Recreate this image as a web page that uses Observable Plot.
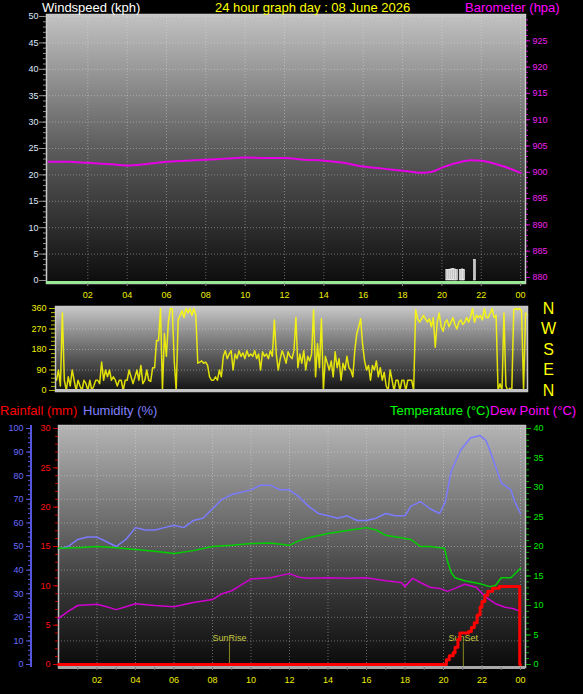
<!DOCTYPE html>
<html><head><meta charset="utf-8">
<script src="https://cdn.jsdelivr.net/npm/d3@7"></script>
<script src="https://cdn.jsdelivr.net/npm/@observablehq/plot@0.6"></script>
<style>
html,body{margin:0;padding:0;background:#000;color:#fff;}
#root{position:relative;width:583px;height:694px;background:#000;overflow:hidden;font-family:"Liberation Sans",Arial,sans-serif;}
.t{position:absolute;font-size:13px;line-height:13px;white-space:nowrap;}
</style></head><body><div id="root"></div>
<script>
// ---------- DATA ----------
const hourTicks = [2,4,6,8,10,12,14,16,18,20,22,24];
const hourLabels = ["02","04","06","08","10","12","14","16","18","20","22","00"];

// wind speed samples [hour, kph]
const windSpeed = [[20.27,2.0],[20.37,2.0],[20.47,2.1],[20.57,2.2],[20.67,2.1],[20.77,2.0],[20.95,2.0],[21.05,2.1],[21.13,2.0],[21.68,3.9]];

// barometer [hour, hPa]
const pressure = [[0,902.0],[1,902.0],[2,901.8],[3,901.6],[4,901.3],[5,901.6],[6,902.0],[7,902.2],[8,902.4],[9,902.6],[10,902.8],[11,902.7],[12,902.7],[13,902.4],[14,902.2],[15,901.8],[16,901.1],[17,900.7],[18,900.3],[19,899.9],[19.5,900.1],[20,900.9],[21,902.0],[21.5,902.3],[22,902.2],[23,901.3],[24,899.9]];

// wind direction, one value every 6 minutes from 00:00 to 24:00
const windDir = [
 45,90,20,340,45,0,60,20,90,45,
 0,45,20,0,45,30,0,45,0,20,
 45,45,30,125,45,90,60,90,45,60,
 45,20,45,45,0,45,45,90,60,30,
 60,90,45,110,30,45,90,45,40,100,
 100,220,220,360,0,250,150,300,360,360,
 130,0,310,330,350,320,360,340,360,330,
 360,330,120,125,130,120,125,110,60,45,
 45,60,45,90,60,150,175,140,160,175,
 90,160,140,175,150,165,140,175,150,160,
 150,175,140,160,90,170,150,160,140,175,
 150,310,160,90,140,175,150,120,170,150,
 140,175,320,100,160,120,175,90,150,130,
 160,355,60,205,100,315,0,150,120,90,
 130,60,170,100,140,45,120,90,150,100,
 90,60,175,250,280,315,200,130,90,110,
 45,110,90,130,60,100,45,80,20,0,
 90,45,0,45,45,0,45,45,0,45,
 45,45,0,355,315,300,315,330,315,300,
 315,280,320,190,300,340,280,260,300,310,
 280,300,320,290,270,300,310,290,300,320,
 300,325,360,300,330,320,330,310,360,320,
 320,340,360,320,330,0,30,0,340,20,
 0,10,0,355,360,355,360,350,0,340,
 330];
const compassDeg = [360,270,180,90,0];
const compassLabels = ["N","W","S","E","N"];

// humidity [hour, %]
const humidity = [[0,49],[0.5,50],[1,53],[1.5,54],[2,54],[2.5,52],[3,50],[3.5,53],[4,58],[4.5,57],[5,57],[5.5,58],[6,59],[6.5,58],[7,61],[7.5,62],[8,66],[8.5,70],[9,72],[9.5,73],[10,74],[10.5,76],[11,76],[11.5,74],[12,74],[12.5,71],[13,67],[13.5,64],[14,63],[14.5,62],[15,63],[15.5,61],[16,61],[16.5,62],[17,64],[17.5,63],[18,63],[18.3,67],[18.8,69],[19.3,66],[19.8,64],[20.1,69],[20.4,82],[20.9,91],[21.4,96],[21.9,97],[22.2,95],[22.4,91],[22.7,84],[23,77],[23.5,74],[23.7,69],[24,64]];
// temperature [hour, °C]
const temperature = [[0,19.7],[1,19.8],[2,20],[3,19.8],[4,19.5],[5,19.2],[6,18.8],[7,19.3],[8,20],[9,20.2],[10,20.5],[11,20.6],[12,20.2],[12.5,21],[13,21.5],[14,22.2],[15,22.7],[16,23.2],[16.5,22.8],[17,21.9],[17.8,21.5],[18.3,21.2],[18.8,20],[19.3,20],[19.8,19.8],[20.05,19.7],[20.2,17.6],[20.4,15.6],[20.6,14.7],[21.1,14.2],[21.9,13.7],[22.4,13.2],[22.7,13.4],[23,14.7],[23.5,14.7],[24,16.3]];
// dew point [hour, °C]
const dewPoint = [[0,7.8],[0.5,9],[1,10],[2,10.2],[2.5,9.8],[3,9.3],[3.5,9.8],[4,10.3],[5,10],[6,9.8],[7,10.5],[8,11],[8.5,12],[9,12.5],[9.5,13.5],[10,14.5],[11,14.7],[12,15.4],[12.5,14.8],[13,14.6],[14,14.7],[15,14.6],[16,14.7],[17,14.2],[17.8,13.9],[18,13.2],[18.4,14.6],[18.8,13.9],[19.3,13.1],[19.8,12.9],[20.2,12.4],[20.6,12.9],[21.1,13.6],[21.7,13.1],[22.2,11.4],[22.7,10.3],[23.2,9.7],[23.6,9.5],[24,9.0]];
// cumulative rainfall [hour, mm]
const rainfall = [[0,0],[20.1,0],[20.15,0.6],[20.3,1.1],[20.5,1.5],[20.6,2.2],[20.75,3.2],[20.85,4.0],[21.3,4.2],[21.45,4.7],[21.6,5.3],[21.75,6.3],[21.9,7.3],[22.0,8.0],[22.15,8.8],[22.3,9.3],[22.55,9.7],[22.9,9.9],[23.95,9.9],[23.96,0],[24,0]];
// sun events
const sunTimes = [8.88, 21.03];
const sunLabels = ["SunRise", "SunSet"];

// ---------- HELPERS ----------
const root = document.getElementById("root");
const FONT = "'Liberation Sans', Arial, sans-serif";
const fmtHour = d => hourLabels[hourTicks.indexOf(d)];

function layer(top, height, opts) {
  const svg = Plot.plot({width: 583, height, ...opts,
    style: {background: "transparent", fontSize: "9px", fontFamily: FONT, overflow: "visible"}});
  svg.style.position = "absolute"; svg.style.left = "0px"; svg.style.top = top + "px";
  root.appendChild(svg);
}
function gradient(id, stops) {
  return () => {
    const ns = "http://www.w3.org/2000/svg";
    const defs = document.createElementNS(ns, "defs");
    const g = document.createElementNS(ns, "linearGradient");
    g.setAttribute("id", id);
    g.setAttribute("x1", "0"); g.setAttribute("y1", "0"); g.setAttribute("x2", "0"); g.setAttribute("y2", "1");
    for (const [o, c] of stops) {
      const s = document.createElementNS(ns, "stop");
      s.setAttribute("offset", o); s.setAttribute("stop-color", c); g.appendChild(s);
    }
    defs.appendChild(g);
    return defs;
  };
}
function yAxis({anchor, minor, major, tickColor, labelColor, dx = 0, minorSize = 3, majorSize = 6, padding = 8}) {
  return [
    Plot.axisY({anchor, ticks: minor, tickSize: minorSize, tickFormat: () => "", color: tickColor, dx}),
    Plot.axisY({anchor, ticks: major, tickSize: majorSize, tickFormat: () => "", color: tickColor, dx}),
    Plot.axisY({anchor, ticks: major, tickSize: 0, tickPadding: padding, color: labelColor, dx})
  ];
}
function text(str, left, top, color) {
  const d = document.createElement("div");
  d.className = "t"; d.textContent = str;
  d.style.left = left + "px"; d.style.top = top + "px"; d.style.color = color;
  root.appendChild(d);
}
const grid = {stroke: "#e8e8e8", strokeOpacity: 0.4, strokeDasharray: "1,2"};

// ---------- TOP PANEL: windspeed + barometer ----------
const windDomain = [-0.57, 50.38];
const baroDomain = [878.86, 930];
const topDims = {marginTop: 14, marginBottom: 17, marginLeft: 46, marginRight: 58};
layer(0, 300, {...topDims, x: {domain: [-0.1, 24.25]}, y: {domain: windDomain}, marks: [
  gradient("gTop", [[0, "#c2c2c2"], [0.5, "#5c5c5c"], [1, "#0c0c0c"]]),
  Plot.frame({fill: "url(#gTop)"}),
  Plot.gridY({ticks: d3.range(5, 51, 5), ...grid}),
  Plot.gridX({ticks: hourTicks, ...grid}),
  Plot.rect(windSpeed, {x1: d => d[0] - 0.045, x2: d => d[0] + 0.045, y1: 0, y2: d => d[1], fill: "#c4c4c4", stroke: "#f4f4f4", strokeWidth: 0.6}),
  Plot.frame({stroke: "#cacaca", strokeWidth: 1.5}),
  Plot.ruleY([windDomain[0]], {stroke: "#98e898", strokeWidth: 3, dy: -1}),
  ...yAxis({anchor: "left", minor: d3.range(0, 51, 1), major: d3.range(0, 51, 5), tickColor: "#909090", labelColor: "#dde8ff", minorSize: 3, majorSize: 7, padding: 8}),
  Plot.axisX({ticks: hourTicks, tickSize: 3, tickFormat: () => "", color: "#8a8a8a"}),
  Plot.axisX({ticks: hourTicks, tickSize: 0, tickPadding: 8, tickFormat: fmtHour, color: "#eeee00"})
]});
layer(0, 300, {...topDims, x: {domain: [-0.1, 24.25], axis: null}, y: {domain: baroDomain}, marks: [
  Plot.lineY(pressure, {x: d => d[0], y: d => d[1], stroke: "#e600e6", strokeWidth: 2, curve: "monotone-x"}),
  ...yAxis({anchor: "right", minor: d3.range(880, 930, 1), major: d3.range(880, 926, 5), tickColor: "#d000d0", labelColor: "#ee22ee", minorSize: 2, majorSize: 4, padding: 7})
]});

// ---------- MIDDLE PANEL: wind direction ----------
const dirDomain = [-4.4, 368.8];
layer(283, 122, {marginTop: 23, marginBottom: 14, marginLeft: 55, marginRight: 56,
  x: {domain: [-0.05, 24], axis: null}, y: {domain: dirDomain}, marks: [
  gradient("gMid", [[0, "#c8c8c8"], [0.5, "#6a6a6a"], [1, "#111111"]]),
  Plot.frame({fill: "url(#gMid)"}),
  Plot.gridY({ticks: [90, 180, 270], ...grid}),
  Plot.lineY(windDir, {x: (d, i) => i / 10, y: d => d, stroke: "#ffff00", strokeWidth: 1.5, strokeOpacity: 0.85}),
  Plot.frame({stroke: "#c8c8c8", strokeWidth: 1.5}),
  Plot.ruleY([dirDomain[0]], {stroke: "#c4c4c4", strokeWidth: 3, dy: -1}),
  ...yAxis({anchor: "left", minor: d3.range(0, 361, 18), major: [0, 90, 180, 270, 360], tickColor: "#b8b800", labelColor: "#eeee00", minorSize: 4, majorSize: 6, padding: 9}),
  Plot.text(compassDeg, {y: d => d, text: (d, i) => compassLabels[i], frameAnchor: "right", dx: 21, textAnchor: "middle", fill: "#ffff00", fontSize: 16})
]});

// ---------- BOTTOM PANEL: humidity, temperature, dew point, rain ----------
const humDomain = [-1.27, 101.27];
const tempDomain = [-0.51, 40.51];
const rainDomain = [-0.38, 30.38];
const botDims = {marginTop: 20, marginBottom: 27, marginLeft: 58, marginRight: 58};
layer(405, 289, {...botDims, x: {domain: [0, 24.26]}, y: {domain: humDomain}, marks: [
  gradient("gBot", [[0, "#b4b4b4"], [0.4, "#6c6c6c"], [0.7, "#343434"], [1, "#0a0a0a"]]),
  Plot.frame({fill: "url(#gBot)"}),
  Plot.gridY({ticks: d3.range(10, 101, 10), ...grid}),
  Plot.gridX({ticks: hourTicks, ...grid}),
  Plot.lineY(humidity, {x: d => d[0], y: d => d[1], stroke: "#7b7bff", strokeWidth: 1.5}),
  Plot.ruleX(sunTimes, {x: d => d, y1: humDomain[0], y2: 9.5, stroke: "#8a8a20", strokeWidth: 1}),
  Plot.text(sunTimes, {x: d => d, y: 9.5, text: (d, i) => sunLabels[i], lineAnchor: "bottom", dy: -1, fill: "#c8c840", fontSize: 9}),
  Plot.frame({stroke: "#c0c0c0", strokeWidth: 1.5}),
  Plot.ruleY([humDomain[0]], {stroke: "#a8a8a8", strokeWidth: 3, dy: 0}),
  ...yAxis({anchor: "left", minor: d3.range(0, 101, 2), major: d3.range(0, 101, 10), tickColor: "#5858e0", labelColor: "#6a6aff", dx: -28, minorSize: 2, majorSize: 4, padding: 7}),
  Plot.axisX({ticks: d3.range(1, 25, 1), tickSize: 3, tickFormat: () => "", color: "#777"}),
  Plot.axisX({ticks: hourTicks, tickSize: 0, tickPadding: 9, tickFormat: fmtHour, color: "#eeee00"})
]});
layer(405, 289, {...botDims, x: {domain: [0, 24.26], axis: null}, y: {domain: tempDomain}, marks: [
  Plot.lineY(temperature, {x: d => d[0], y: d => d[1], stroke: "#00d000", strokeWidth: 1.5}),
  Plot.lineY(dewPoint, {x: d => d[0], y: d => d[1], stroke: "#d000d0", strokeWidth: 1.5}),
  ...yAxis({anchor: "right", minor: d3.range(0, 41, 1), major: d3.range(0, 41, 5), tickColor: "#00b000", labelColor: "#00ee00", minorSize: 3, majorSize: 5, padding: 8})
]});
layer(405, 289, {...botDims, x: {domain: [0, 24.26], axis: null}, y: {domain: rainDomain}, marks: [
  Plot.lineY(rainfall, {x: d => d[0], y: d => d[1], stroke: "#ff0000", strokeWidth: 3, curve: "step-after"}),
  ...yAxis({anchor: "left", minor: d3.range(0, 31, 1), major: d3.range(0, 31, 5), tickColor: "#d00000", labelColor: "#ff1010", minorSize: 3, majorSize: 5, padding: 8})
]});

// humidity axis line
const axLine = document.createElement("div");
Object.assign(axLine.style, {position: "absolute", left: "29.5px", top: "425px", width: "2px", height: "242px", background: "#5555dd"});
root.appendChild(axLine);

// ---------- TITLES ----------
text("Windspeed (kph)", 42, 1, "#ffffff");
text("24 hour graph day : 08 June 2026", 215, 1, "#ffff00");
text("Barometer (hpa)", 465, 1, "#ff00ff");
text("Rainfall (mm)", 0, 404, "#ff0000");
text("Humidity (%)", 83, 404, "#8080ff");
text("Temperature (\u00B0C)", 390, 404, "#00ff00");
text("Dew Point (\u00B0C)", 490, 404, "#ff00ff");
</script></body></html>
